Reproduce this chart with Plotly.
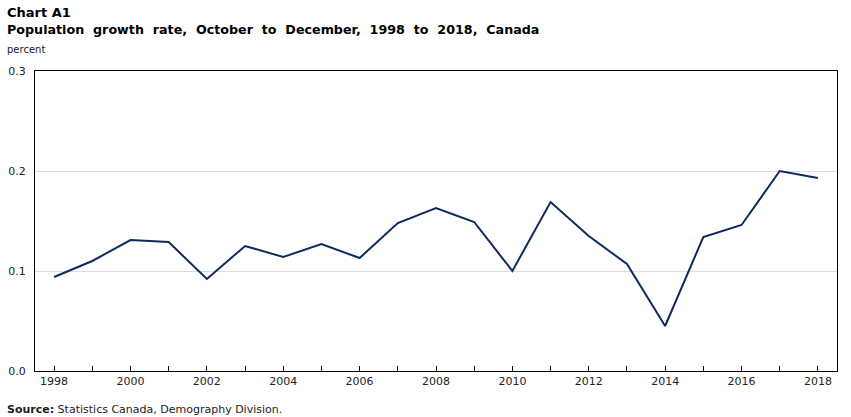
import plotly.graph_objects as go

years = list(range(1998, 2019))
growth = [0.094, 0.110, 0.131, 0.129, 0.092, 0.125, 0.114, 0.127, 0.113, 0.148,
          0.163, 0.149, 0.100, 0.169, 0.135, 0.107, 0.045, 0.134, 0.146, 0.200, 0.193]
x_ticks = list(range(1998, 2019, 2))
y_ticks = [0.0, 0.1, 0.2, 0.3]
y_labels = ["0.0", "0.1", "0.2", "0.3"]

FONT = "DejaVu Sans, Verdana, sans-serif"

W, H = 851, 417
ML, MR, MT, MB = 35, 14, 71, 46
plot_w = W - ML - MR
plot_h = H - MT - MB


def px(xp, yp):
    return (xp - ML) / plot_w, (H - yp - MB) / plot_h


fig = go.Figure()
fig.add_trace(go.Scatter(x=years, y=growth, mode="lines",
                         line=dict(color="#0c2a60", width=2), hoverinfo="x+y"))

anns = []
for text, xp, yp, size in [
    ("<b>Chart A1</b>", 5, 13, 13),
    ("<b>Population  growth  rate,  October  to  December,  1998  to  2018,  Canada</b>", 5, 29, 12.7),
    ("percent", 5, 49, 10),
    ("<b>Source:</b> Statistics Canada, Demography Division.", 5, 409, 11),
]:
    ax, ay = px(xp, yp)
    anns.append(dict(text=text, x=ax, y=ay, xref="paper", yref="paper",
                     showarrow=False, xanchor="left", yanchor="middle",
                     font=dict(family=FONT, size=size, color="#000" if size > 12 else "#222")))

fig.update_layout(
    width=W, height=H,
    margin=dict(l=ML, r=MR, t=MT, b=MB),
    paper_bgcolor="white", plot_bgcolor="white",
    showlegend=False,
    font=dict(family=FONT, size=11, color="#222"),
    xaxis=dict(range=[1997.5, 2018.5], tickvals=x_ticks,
               ticktext=[str(v) for v in x_ticks],
               ticks="inside", ticklen=5, tickcolor="#000", tickwidth=1,
               minor=dict(dtick=1, tick0=1998, ticks="inside", ticklen=5, tickcolor="#000"),
               showline=True, linecolor="#000", linewidth=1, mirror=True,
               showgrid=False, zeroline=False, automargin=False,
               tickfont=dict(family=FONT, size=11, color="#222")),
    yaxis=dict(range=[0, 0.3], tickvals=y_ticks, ticktext=y_labels,
               ticks="", showline=True, linecolor="#000", linewidth=1, mirror=True,
               showgrid=True, gridcolor="#dcdcdc", gridwidth=1, zeroline=False,
               automargin=False,
               tickfont=dict(family=FONT, size=11, color="#222"), ticklabelstandoff=6),
    annotations=anns,
)

fig.write_html("out.html")
